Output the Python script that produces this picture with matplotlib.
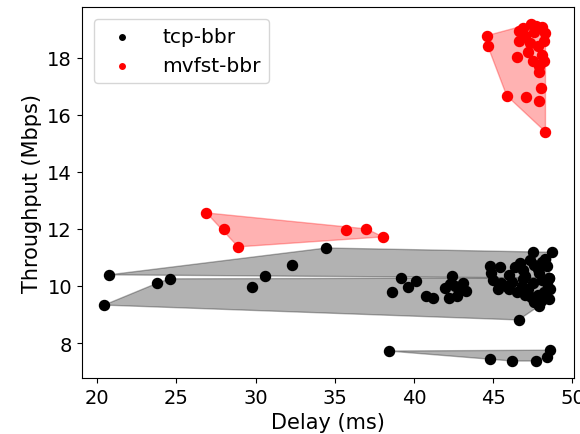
import numpy as np
import matplotlib
matplotlib.use("Agg")
import matplotlib.pyplot as plt

# tcp-bbr runs (delay ms, throughput Mbps)
tcp_run1_delay = [20.75, 34.47, 32.3, 30.6, 47.5, 48.7, 48.5, 42.4, 44.8, 44.85, 45.4, 46.4,
                  48.05, 46.9, 47.3, 47.8, 48.3, 46.0, 47.0, 47.9, 48.4, 47.6, 46.7]
tcp_run1_tput = [10.39, 11.33, 10.74, 10.35, 11.19, 11.18, 10.28, 10.35, 10.7, 10.45, 10.67, 10.67,
                 10.84, 10.55, 10.9, 10.6, 10.95, 10.4, 10.35, 10.45, 10.7, 10.75, 10.8]

tcp_run2_delay = [20.44, 23.8, 24.6, 29.8, 38.6, 39.2, 40.1, 39.6, 40.75, 41.2, 41.95, 42.2,
                  42.7, 43.3, 43.1, 42.6, 42.3, 42.9, 45.8, 46.5, 48.0, 48.5, 48.6, 46.6,
                  47.9, 45.0, 45.5, 46.2, 46.8, 47.2, 47.5, 47.8, 48.2, 48.4, 46.9, 47.4,
                  48.1, 45.3, 46.0, 47.0, 47.6, 48.55]
tcp_run2_tput = [9.33, 10.1, 10.25, 9.96, 9.8, 10.27, 10.17, 9.96, 9.65, 9.58, 9.93, 9.58,
                 9.65, 9.82, 10.1, 10.0, 10.07, 9.9, 10.0, 9.79, 9.47, 9.54, 9.9, 8.81,
                 9.3, 10.2, 10.1, 10.15, 10.0, 9.9, 10.1, 9.7, 9.8, 10.1, 10.25, 9.6,
                 10.2, 9.9, 9.9, 9.7, 9.45, 10.27]

tcp_run3_delay = [38.4, 44.8, 46.2, 47.7, 48.4, 48.6]
tcp_run3_tput = [7.72, 7.44, 7.37, 7.37, 7.5, 7.75]

# mvfst-bbr runs
mvfst_run1_delay = [44.6, 44.65, 46.5, 45.85, 47.1, 48.0, 47.9, 48.3, 47.4, 46.6, 48.05, 48.2,
                    47.9, 46.6, 47.2, 47.6, 47.8, 48.1, 47.5, 47.0, 47.7, 47.3, 47.9, 48.2,
                    46.9, 48.3]
mvfst_run1_tput = [18.77, 18.42, 18.04, 16.67, 16.63, 16.95, 16.49, 15.4, 19.19, 18.95, 19.08, 18.6,
                   17.72, 18.6, 18.2, 18.9, 18.4, 18.1, 17.9, 18.75, 19.1, 18.5, 17.5, 17.9,
                   19.05, 18.85]

mvfst_run2_delay = [26.9, 28.0, 28.9, 35.7, 37.0, 38.05]
mvfst_run2_tput = [12.56, 12.0, 11.37, 11.96, 12.0, 11.72]


def hull(xs, ys):
    # monotone chain convex hull
    pts = sorted(set(zip(xs, ys)))

    def cross(o, a, b):
        return (a[0] - o[0]) * (b[1] - o[1]) - (a[1] - o[1]) * (b[0] - o[0])

    lower = []
    for p in pts:
        while len(lower) >= 2 and cross(lower[-2], lower[-1], p) <= 0:
            lower.pop()
        lower.append(p)
    upper = []
    for p in reversed(pts):
        while len(upper) >= 2 and cross(upper[-2], upper[-1], p) <= 0:
            upper.pop()
        upper.append(p)
    h = np.array(lower[:-1] + upper[:-1])
    return h[:, 0], h[:, 1]


fig, ax = plt.subplots(figsize=(5.8, 4.35), dpi=100)

runs = [
    (tcp_run1_delay, tcp_run1_tput, 'black', 'tcp-bbr'),
    (tcp_run2_delay, tcp_run2_tput, 'black', None),
    (tcp_run3_delay, tcp_run3_tput, 'black', None),
    (mvfst_run1_delay, mvfst_run1_tput, 'red', 'mvfst-bbr'),
    (mvfst_run2_delay, mvfst_run2_tput, 'red', None),
]

for xs, ys, c, lab in runs:
    hx, hy = hull(xs, ys)
    ax.fill(hx, hy, color=c, alpha=0.3)
    ax.scatter(xs, ys, s=52, color=c, label=lab, zorder=3)

ax.set_xlabel('Delay (ms)', fontsize=15)
ax.set_ylabel('Throughput (Mbps)', fontsize=15)
ax.tick_params(labelsize=14)
ax.legend(loc='upper left', fontsize=14.5, markerscale=0.55, handletextpad=1.0,
          borderaxespad=0.6)

plt.subplots_adjust(left=0.141, right=0.99, bottom=0.129, top=0.982)
plt.savefig('out.png')
